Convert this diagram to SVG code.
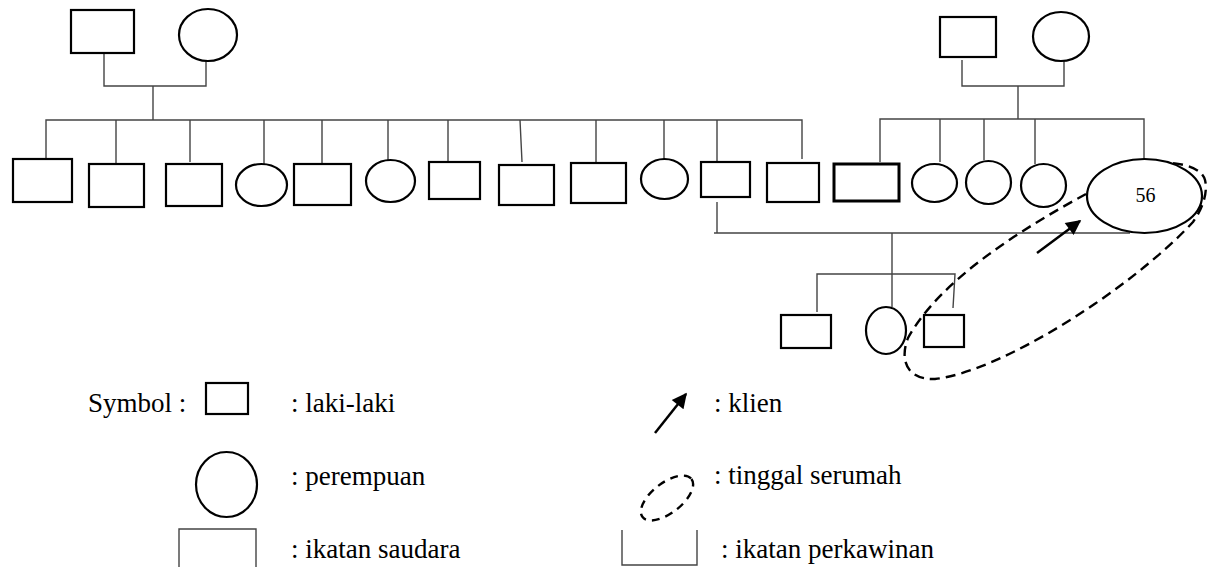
<svg xmlns="http://www.w3.org/2000/svg" width="1216" height="567" viewBox="0 0 1216 567">
<defs>
<style>
.m{fill:#fff;stroke:#000;stroke-width:2.2}
.f{fill:#fff;stroke:#000;stroke-width:2.2}
.ln{fill:none;stroke:#444;stroke-width:1.4}
.ds{fill:none;stroke:#000;stroke-width:2.4;stroke-dasharray:10,6}
.t{font-family:"Liberation Serif","Times New Roman",serif;font-size:27px;fill:#000}
.n{font-family:"Liberation Serif","Times New Roman",serif;font-size:20px;fill:#000}
</style>
<marker id="ah" viewBox="0 0 10 10" refX="9" refY="5" markerWidth="7" markerHeight="6" orient="auto" markerUnits="strokeWidth">
<path d="M0,0 L10,5 L0,10 z" fill="#000"/>
</marker>
</defs>
<rect width="1216" height="567" fill="#fff"/>

<g id="connectors">
<path class="ln" d="M104,53 V86 H206 V61"/>
<path class="ln" d="M153,86 V120"/>
<path class="ln" d="M46,159 V120 H802 V159"/>
<path class="ln" d="M116,120 V164 M190,120 V162 M264,120 V164 M322,120 V164 M388,120 V160 M448,120 V162 M520,120 L522,162 M596,120 V163 M664,120 V160 M717,120 V161"/>
<path class="ln" d="M962,60 V86 H1064 V61"/>
<path class="ln" d="M1018,86 V119"/>
<path class="ln" d="M880,162 V119 H1144 V159"/>
<path class="ln" d="M940,119 V162 M984,119 V160 M1035,119 V164"/>
<path class="ln" d="M717,202 V233 M714,233 H1130"/>
<path class="ln" d="M892,233 V307"/>
<path class="ln" d="M817,312 V274 H955 L953,308"/>
</g>

<g id="gp-left-father"><rect class="m" x="71" y="10" width="63" height="43"/></g>
<g id="gp-left-mother"><ellipse class="f" cx="208" cy="35" rx="29" ry="26"/></g>
<g id="gp-right-father"><rect class="m" x="940" y="17" width="56" height="40"/></g>
<g id="gp-right-mother"><ellipse class="f" cx="1061" cy="36.5" rx="28" ry="24.5"/></g>

<g id="c1"><rect class="m" x="13" y="159" width="59" height="43"/></g>
<g id="c2"><rect class="m" x="89" y="164" width="55" height="43"/></g>
<g id="c3"><rect class="m" x="166" y="164" width="56" height="42"/></g>
<g id="c4"><ellipse class="f" cx="261.5" cy="185" rx="25.5" ry="21"/></g>
<g id="c5"><rect class="m" x="294" y="164" width="57" height="41"/></g>
<g id="c6"><ellipse class="f" cx="390.5" cy="181" rx="24.5" ry="21"/></g>
<g id="c7"><rect class="m" x="429" y="162" width="51" height="37"/></g>
<g id="c8"><rect class="m" x="499" y="165" width="55" height="40"/></g>
<g id="c9"><rect class="m" x="571" y="163" width="55" height="40"/></g>
<g id="c10"><ellipse class="f" cx="664.5" cy="179" rx="23.5" ry="20"/></g>
<g id="c11"><rect class="m" x="701" y="162" width="49" height="35"/></g>
<g id="c12"><rect class="m" x="767" y="163" width="52" height="39"/></g>

<g id="r1"><rect class="m" x="834" y="164" width="65" height="37" style="stroke-width:3"/></g>
<g id="r2"><ellipse class="f" cx="934.5" cy="183" rx="22.5" ry="19"/></g>
<g id="r3"><ellipse class="f" cx="988.5" cy="182.5" rx="22.5" ry="21.5"/></g>
<g id="r4"><ellipse class="f" cx="1043.5" cy="185.5" rx="22.5" ry="21.5"/></g>

<g id="household">
<path class="ds" d="M1086,194 C1020,230 940,280 908,338 C900,358 905,380 935,379 C1000,372 1130,290 1193,222 C1203,208 1208,192 1205,180 C1202,170 1190,165 1172,163"/>
</g>

<g id="client"><ellipse class="f" cx="1144.5" cy="196" rx="57.5" ry="37" style="fill:none"/>
<text class="n" x="1145.5" y="202" text-anchor="middle">56</text></g>

<g id="g1"><rect class="m" x="781" y="315" width="50" height="33"/></g>
<g id="g2"><ellipse class="f" cx="886" cy="330.5" rx="20" ry="23.5" style="fill:none"/></g>
<g id="g3"><rect class="m" x="924" y="315" width="40" height="32"/></g>

<g id="client-arrow"><line x1="1037" y1="253" x2="1080" y2="221" stroke="#000" stroke-width="2.5" marker-end="url(#ah)"/></g>

<g id="legend">
<text class="t" x="88" y="412">Symbol :</text>
<rect class="m" x="206" y="383" width="42" height="31"/>
<text class="t" x="291" y="412">: laki-laki</text>
<ellipse class="f" cx="226.5" cy="484.5" rx="30.5" ry="32.5"/>
<text class="t" x="291" y="485">: perempuan</text>
<path class="ln" d="M179,570 V529 H256 V570"/>
<text class="t" x="291" y="558">: ikatan saudara</text>
<line x1="655" y1="433" x2="686" y2="394" stroke="#000" stroke-width="2.5" marker-end="url(#ah)"/>
<text class="t" x="714" y="412">: klien</text>
<ellipse class="ds" cx="667" cy="498" rx="31" ry="15" transform="rotate(-38 667 498)" style="stroke-dasharray:8,6"/>
<text class="t" x="714" y="484">: tinggal serumah</text>
<path class="ln" d="M622,530 V565 H697 V530"/>
<text class="t" x="721" y="558">: ikatan perkawinan</text>
</g>
</svg>
